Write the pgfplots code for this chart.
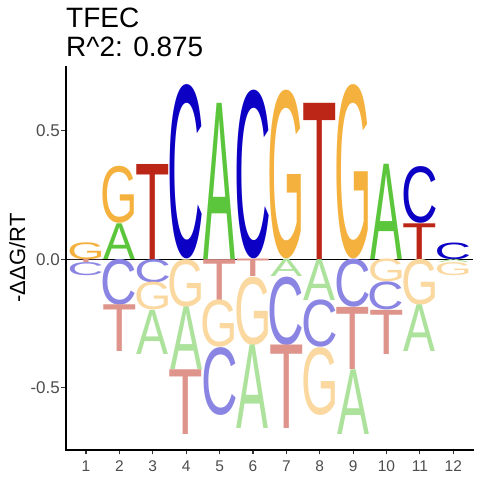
\documentclass[border=0pt]{standalone}
\usepackage{pgfplots}
\pgfplotsset{compat=1.18}
\usepackage{pgfplotstable}
\usepackage{graphicx}
\usepackage{fontspec}
\setmainfont{Liberation Sans}
\definecolor{cA}{HTML}{5BC63B}
\definecolor{cC}{HTML}{0C00C4}
\definecolor{cG}{HTML}{F5B13E}
\definecolor{cT}{HTML}{BC2617}
\colorlet{nA}{cA!50!white}
\colorlet{nC}{cC!48!white}
\colorlet{nG}{cG!50!white}
\colorlet{nT}{cT!50!white}
\definecolor{labc}{HTML}{4D4D4D}
\definecolor{tickc}{HTML}{333333}
\newlength\yu
\setlength\yu{256.7pt}
\newcommand\LA{A}
\newcommand\LC{\kern-0.05em C\kern-0.04em}
\newcommand\LG{\kern-0.055em G\kern-0.057em}
\newcommand\LT{\kern-0.022em T\kern-0.022em}
\newcommand\KcA{\textcolor{cA}{\LA}}
\newcommand\KcC{\textcolor{cC}{\LC}}
\newcommand\KcG{\textcolor{cG}{\LG}}
\newcommand\KcT{\textcolor{cT}{\LT}}
\newcommand\KnA{\textcolor{nA}{\LA}}
\newcommand\KnC{\textcolor{nC}{\LC}}
\newcommand\KnG{\textcolor{nG}{\LG}}
\newcommand\KnT{\textcolor{nT}{\LT}}
\pgfplotstableread{
x lo h c
1 0 0.066 cG
2 0 0.139 cA
2 0.139 0.222 cG
3 0 0.370 cT
4 0 0.679 cC
5 0 0.608 cA
6 0 0.657 cC
7 0 0.657 cG
8 0 0.608 cT
9 0 0.679 cG
10 0 0.371 cA
11 0 0.139 cT
11 0.139 0.221 cC
12 0 0.065 cC
1 -0.012 0.012 nT
1 -0.063 0.051 nC
2 -0.178 0.178 nC
2 -0.360 0.182 nT
3 -0.090 0.090 nC
3 -0.198 0.108 nG
3 -0.370 0.172 nA
4 -0.185 0.185 nG
4 -0.429 0.244 nA
4 -0.681 0.252 nT
5 -0.159 0.159 nT
5 -0.343 0.184 nG
5 -0.607 0.264 nC
6 -0.068 0.068 nT
6 -0.334 0.266 nG
6 -0.659 0.325 nA
7 -0.068 0.068 nA
7 -0.334 0.266 nC
7 -0.659 0.325 nT
8 -0.159 0.159 nA
8 -0.343 0.184 nC
8 -0.607 0.264 nG
9 -0.187 0.187 nC
9 -0.429 0.242 nT
9 -0.681 0.252 nA
10 -0.089 0.089 nG
10 -0.198 0.109 nC
10 -0.370 0.172 nT
11 -0.178 0.178 nG
11 -0.360 0.182 nA
12 -0.012 0.012 nA
12 -0.063 0.051 nG
}\logo
\begin{document}
\begin{tikzpicture}
\useasboundingbox (0,0) rectangle (480pt,480pt);
\begin{axis}[
  at={(66pt,30pt)}, anchor=south west,
  scale only axis, width=407.3pt, height=383.3pt,
  xmin=0.4, xmax=12.6, ymin=-0.743, ymax=0.75,
  axis x line*=bottom, axis y line*=left,
  axis line style={line width=1.6pt, black, line cap=rect},
  xtick={1,2,3,4,5,6,7,8,9,10,11,12},
  xticklabels={1,2,3,4,5,6,7,8,9,10,11,12},
  ytick={-0.5,0,0.5},
  yticklabels={-0.5,0.0,0.5},
  tick align=outside, major tick length=4.5pt,
  tick style={line width=1.1pt, color=tickc},
  xticklabel style={font=\fontsize{15.5}{15.5}\selectfont, text=labc, inner sep=0pt, anchor=north, yshift=-6pt},
  yticklabel style={font=\fontsize{17}{17}\selectfont, text=labc, inner sep=0pt, anchor=east, xshift=-1.5pt},
  clip=false,
]
\addplot[draw=none, mark=none,
  point meta=explicit symbolic,
  visualization depends on={\thisrow{h}\as\hh},
  nodes near coords={\resizebox*{32pt}{\hh\yu}{\csname K\pgfplotspointmeta\endcsname}},
  every node near coord/.append style={anchor=south, inner sep=0pt, outer sep=0pt},
] table[x=x, y=lo, meta=c] {\logo};
\addplot[black, line width=1.1pt] coordinates {(0.4,0) (12.6,0)};
\end{axis}
\node[anchor=base west, inner sep=0pt, font=\fontsize{28}{28}\selectfont] at (66pt,452.7pt) {TFEC};
\node[anchor=base west, inner sep=0pt, font=\fontsize{28}{28}\selectfont] at (66pt,423.3pt) {R\textasciicircum 2: 0.875};
\node[rotate=90, anchor=base, inner sep=0pt, font=\fontsize{22}{22}\selectfont] at (25pt,222pt) {-ΔΔG/RT};
\end{tikzpicture}
\end{document}
